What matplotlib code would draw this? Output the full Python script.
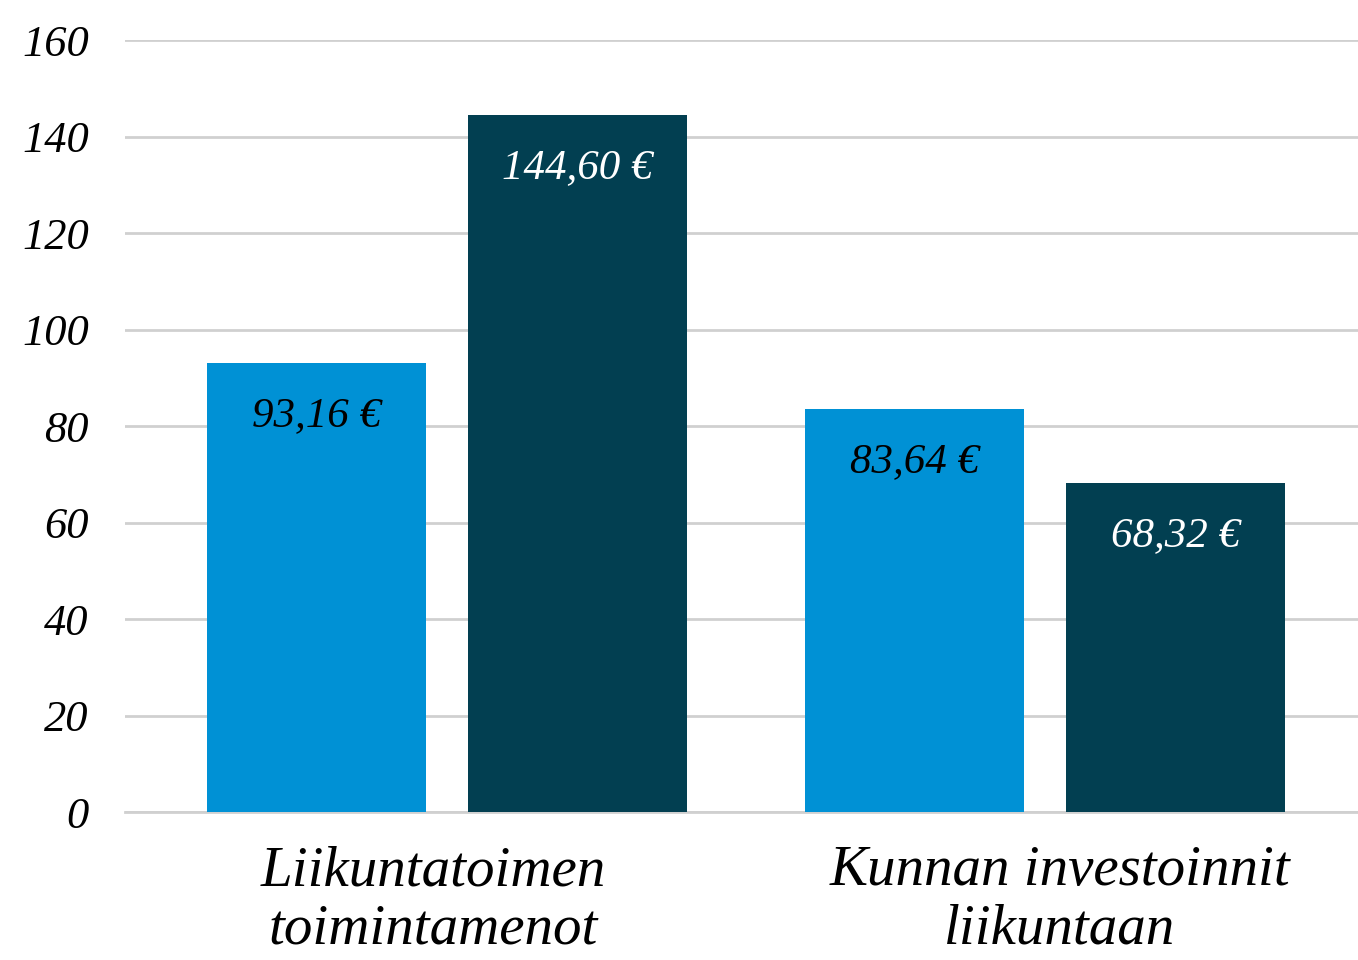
import numpy as np
import matplotlib.pyplot as plt

# data
kategoriat = ["Liikuntatoimen\ntoimintamenot", "Kunnan investoinnit\nliikuntaan"]
sarja_a = [93.16, 83.64]
sarja_b = [144.60, 68.32]
y_ticks = [0, 20, 40, 60, 80, 100, 120, 140, 160]

vaalea = "#0091d5"
tumma = "#023f51"

plt.rcParams['font.family'] = ['Liberation Serif', 'DejaVu Serif']
plt.rcParams['font.style'] = 'italic'

fig = plt.figure(figsize=(13.58, 9.6), dpi=100)
ax = fig.add_axes([0.092, 0.154, 0.908, 0.804])

x = np.arange(len(kategoriat))
w = 0.366
off = 0.218
b1 = ax.bar(x - off, sarja_a, w, color=vaalea, zorder=3)
b2 = ax.bar(x + off, sarja_b, w, color=tumma, zorder=3)

def fmt(v):
    return ("%.2f" % v).replace(".", ",") + " €"

for bars, vals, c in [(b1, sarja_a, "black"), (b2, sarja_b, "white")]:
    for r, v in zip(bars, vals):
        ax.annotate(fmt(v), (r.get_x() + r.get_width() / 2, v),
                    xytext=(0, -38), textcoords="offset points",
                    ha="center", va="center", color=c, fontsize=31,
                    style="italic", zorder=4)

ax.set_xlim(-0.538, 1.523)
ax.set_ylim(0, 160)
ax.set_yticks(y_ticks)
ax.set_yticklabels([str(t) for t in y_ticks], fontsize=32, style="italic")
# labels sit a bit off the group centres in the original
ax.set_xticks(x + np.array([-0.022, 0.025]))
ax.set_xticklabels(kategoriat, fontsize=41, style="italic", linespacing=1.15)
ax.tick_params(axis="both", length=0)
ax.tick_params(axis="y", pad=26)
ax.tick_params(axis="x", pad=24)
ax.grid(axis="y", color="#d0d0d0", linewidth=2, zorder=0)
for s in ["top", "right", "left"]:
    ax.spines[s].set_visible(False)
ax.spines["bottom"].set_color("#d0d0d0")
ax.spines["bottom"].set_linewidth(2)

fig.savefig("out.png", dpi=100)
